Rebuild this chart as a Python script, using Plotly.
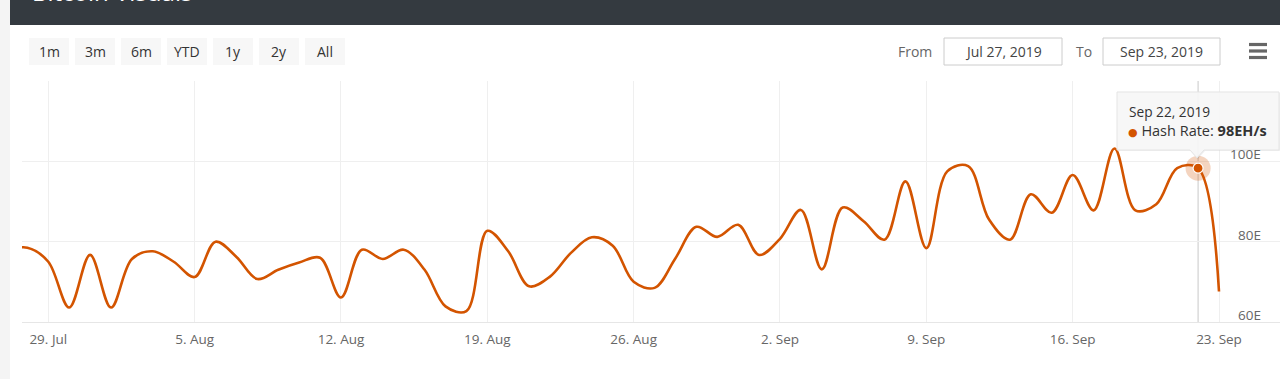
import datetime as dt
import plotly.graph_objects as go

# ---------------- data ----------------
dates = [
    "2019-07-27", "2019-07-28", "2019-07-29", "2019-07-30", "2019-07-31",
    "2019-08-01", "2019-08-02", "2019-08-03", "2019-08-04", "2019-08-05",
    "2019-08-06", "2019-08-07", "2019-08-08", "2019-08-09", "2019-08-10",
    "2019-08-11", "2019-08-12", "2019-08-13", "2019-08-14", "2019-08-15",
    "2019-08-16", "2019-08-17", "2019-08-18", "2019-08-19", "2019-08-20",
    "2019-08-21", "2019-08-22", "2019-08-23", "2019-08-24", "2019-08-25",
    "2019-08-26", "2019-08-27", "2019-08-28", "2019-08-29", "2019-08-30",
    "2019-08-31", "2019-09-01", "2019-09-02", "2019-09-03", "2019-09-04",
    "2019-09-05", "2019-09-06", "2019-09-07", "2019-09-08", "2019-09-09",
    "2019-09-10", "2019-09-11", "2019-09-12", "2019-09-13", "2019-09-14",
    "2019-09-15", "2019-09-16", "2019-09-17", "2019-09-18", "2019-09-19",
    "2019-09-20", "2019-09-21", "2019-09-22", "2019-09-23",
]
hash_rate = [
    77.8, 78.5, 75.0, 63.6, 76.7,
    63.6, 75.7, 77.6, 75.0, 71.2,
    80.0, 76.2, 70.7, 73.0, 74.8,
    76.0, 66.1, 78.0, 75.7, 78.0,
    73.0, 63.9, 62.7, 82.7, 77.6,
    68.9, 71.3, 77.2, 81.1, 79.0,
    70.0, 68.5, 75.9, 83.7, 81.2,
    84.2, 76.7, 80.7, 87.9, 73.1,
    88.5, 85.1, 80.5, 95.0, 78.4,
    97.5, 98.8, 85.5, 80.5, 91.8,
    87.2, 96.6, 87.8, 103.2, 87.8,
    89.3, 98.3, 98.3, 67.6,
]
x_tick_vals = ["2019-07-29", "2019-08-05", "2019-08-12", "2019-08-19", "2019-08-26",
               "2019-09-02", "2019-09-09", "2019-09-16", "2019-09-23"]
x_tick_text = ["29. Jul", "5. Aug", "12. Aug", "19. Aug", "26. Aug",
               "2. Sep", "9. Sep", "16. Sep", "23. Sep"]
y_grid_vals = [60, 80, 100, 120]
y_label_vals = [60, 80, 100]
y_label_text = ["60E", "80E", "100E"]
range_buttons = ["1m", "3m", "6m", "YTD", "1y", "2y", "All"]
from_date = "Jul 27, 2019"
to_date = "Sep 23, 2019"
hover_index = 57  # Sep 22
series_name = "Hash Rate"

# ---------------- styling / geometry ----------------
W, H = 1280, 379
PL, PR, PT, PB = 22, 1280, 81, 322
LINE = "#d35400"
FONT = "Open Sans, Noto Sans, DejaVu Sans, sans-serif"


def px(x):
    return (x - PL) / (PR - PL)


def py(y):
    return (PB - y) / (PB - PT)


# x-range derived from the pixel position of the ticks
ref = dt.datetime(2019, 7, 29)
ppd = (1219.0 - 48.3) / 56.0
x_left = ref + dt.timedelta(days=(PL - 48.3) / ppd)
x_right = ref + dt.timedelta(days=(PR - 48.3) / ppd)

fig = go.Figure()
fig.add_trace(go.Scatter(
    x=dates, y=hash_rate, mode="lines",
    line=dict(color=LINE, width=2.6, shape="spline", smoothing=1.0),
    hoverinfo="skip", showlegend=False, cliponaxis=True,
))
# hover halo + marker
fig.add_trace(go.Scatter(
    x=[dates[hover_index]], y=[hash_rate[hover_index]], mode="markers",
    marker=dict(size=25, color="rgba(211,84,0,0.25)", line=dict(width=0)),
    hoverinfo="skip", showlegend=False,
))
fig.add_trace(go.Scatter(
    x=[dates[hover_index]], y=[hash_rate[hover_index]], mode="markers",
    marker=dict(size=10, color=LINE, line=dict(width=1.2, color="white")),
    hoverinfo="skip", showlegend=False,
))

shapes = []
# left gray strip
shapes.append(dict(type="rect", xref="paper", yref="paper", x0=px(-2), x1=px(10),
                   y0=py(H + 5), y1=py(-5), fillcolor="#f4f4f4", line=dict(width=0), layer="below"))
# dark header
shapes.append(dict(type="rect", xref="paper", yref="paper", x0=px(10), x1=px(W + 5),
                   y0=py(25), y1=py(-10), fillcolor="#343a40", line=dict(width=0), layer="above"))
# range buttons
annotations = []
for i, b in enumerate(range_buttons):
    bx0 = 29 + 46 * i
    shapes.append(dict(type="rect", xref="paper", yref="paper", x0=px(bx0), x1=px(bx0 + 40),
                       y0=py(65), y1=py(38), fillcolor="#f7f7f7", line=dict(width=0), layer="above"))
    annotations.append(dict(xref="paper", yref="paper", x=px(bx0 + 20), y=py(51), text=b,
                            showarrow=False, xanchor="center", yanchor="middle",
                            font=dict(family=FONT, size=14, color="#333333")))
# date inputs
for (bx0, bx1, txt) in [(944, 1062, from_date), (1103, 1220, to_date)]:
    shapes.append(dict(type="rect", xref="paper", yref="paper", x0=px(bx0), x1=px(bx1),
                       y0=py(65), y1=py(38), fillcolor="white", line=dict(width=1, color="#cccccc"),
                       layer="above"))
    annotations.append(dict(xref="paper", yref="paper", x=px((bx0 + bx1) / 2), y=py(51), text=txt,
                            showarrow=False, xanchor="center", yanchor="middle",
                            font=dict(family=FONT, size=14, color="#444444")))
annotations.append(dict(xref="paper", yref="paper", x=px(934), y=py(51), text="From",
                        showarrow=False, xanchor="right", yanchor="middle",
                        font=dict(family=FONT, size=14, color="#666666")))
annotations.append(dict(xref="paper", yref="paper", x=px(1094), y=py(51), text="To",
                        showarrow=False, xanchor="right", yanchor="middle",
                        font=dict(family=FONT, size=14, color="#666666")))
# hamburger menu
for yy in [44.5, 51, 57.5]:
    shapes.append(dict(type="line", xref="paper", yref="paper", x0=px(1249), x1=px(1267),
                       y0=py(yy), y1=py(yy), line=dict(color="#666666", width=3.2), layer="above"))
# crosshair
shapes.append(dict(type="line", xref="x", yref="paper", x0=dates[hover_index], x1=dates[hover_index],
                   y0=0, y1=1, line=dict(color="#c8c8c8", width=1), layer="below"))


def tooltip_path(dx=0.0, dy=0.0):
    pts = [(1117, 92), (1279, 92), (1279, 150), (1204, 150), (1197, 158), (1190, 150), (1117, 150)]
    return "M " + " L ".join(f"{px(x + dx):.5f},{py(y + dy):.5f}" for x, y in pts) + " Z"


shapes.append(dict(type="path", xref="paper", yref="paper", path=tooltip_path(1, 1),
                   fillcolor="rgba(0,0,0,0.06)", line=dict(width=0), layer="above"))
shapes.append(dict(type="path", xref="paper", yref="paper", path=tooltip_path(),
                   fillcolor="rgba(247,247,247,0.92)", line=dict(width=1, color="#e4e4e4"), layer="above"))

# tooltip text
hover_date = dt.datetime.strptime(dates[hover_index], "%Y-%m-%d")
annotations.append(dict(xref="paper", yref="paper", x=px(1127), y=py(111),
                        text=hover_date.strftime("%b %d, %Y").replace(" 0", " "),
                        showarrow=False, xanchor="left", yanchor="middle",
                        font=dict(family=FONT, size=13.7, color="#333333")))
annotations.append(dict(xref="paper", yref="paper", x=px(1126), y=py(130),
                        text=f"<span style='color:{LINE};font-size:11px'>●</span> {series_name}: "
                             f"<b>{round(hash_rate[hover_index])}EH/s</b>",
                        showarrow=False, xanchor="left", yanchor="middle",
                        font=dict(family=FONT, size=14.5, color="#333333")))

# y labels (above gridlines, right aligned)
for v, t in zip(y_label_vals, y_label_text):
    annotations.append(dict(xref="paper", yref="y", x=px(1263), y=v, yshift=7, text=t,
                            showarrow=False, xanchor="right", yanchor="middle",
                            font=dict(family=FONT, size=13.5, color="#666666")))

# header title fragment (cut off at the top)
annotations.append(dict(xref="paper", yref="paper", x=px(30), y=py(-9), text="Bitcoin Visuals",
                        showarrow=False, xanchor="left", yanchor="middle",
                        font=dict(family=FONT, size=24, color="white")))

fig.update_layout(
    width=W, height=H,
    margin=dict(l=PL, r=W - PR, t=PT, b=H - PB, pad=0),
    paper_bgcolor="white", plot_bgcolor="white",
    shapes=shapes, annotations=annotations,
    hovermode=False, showlegend=False,
    font=dict(family=FONT),
    xaxis=dict(
        type="date", range=[x_left, x_right],
        tickmode="array", tickvals=x_tick_vals, ticktext=x_tick_text,
        showgrid=True, gridcolor="#efefef", gridwidth=1,
        ticks="", showline=True, linecolor="#e6e6e6", linewidth=1,
        zeroline=False, tickfont=dict(family=FONT, size=13.5, color="#666666"),
        ticklabelstandoff=5, fixedrange=True,
    ),
    yaxis=dict(
        range=[60, 120], tickmode="array", tickvals=y_grid_vals,
        showticklabels=False, showgrid=True, gridcolor="#efefef", gridwidth=1,
        zeroline=False, ticks="", showline=False, fixedrange=True,
    ),
)

fig.write_html(
    "out.html",
    config={"displayModeBar": False, "staticPlot": True},
    post_script="document.body.style.margin='0';document.body.style.overflow='hidden';",
)
